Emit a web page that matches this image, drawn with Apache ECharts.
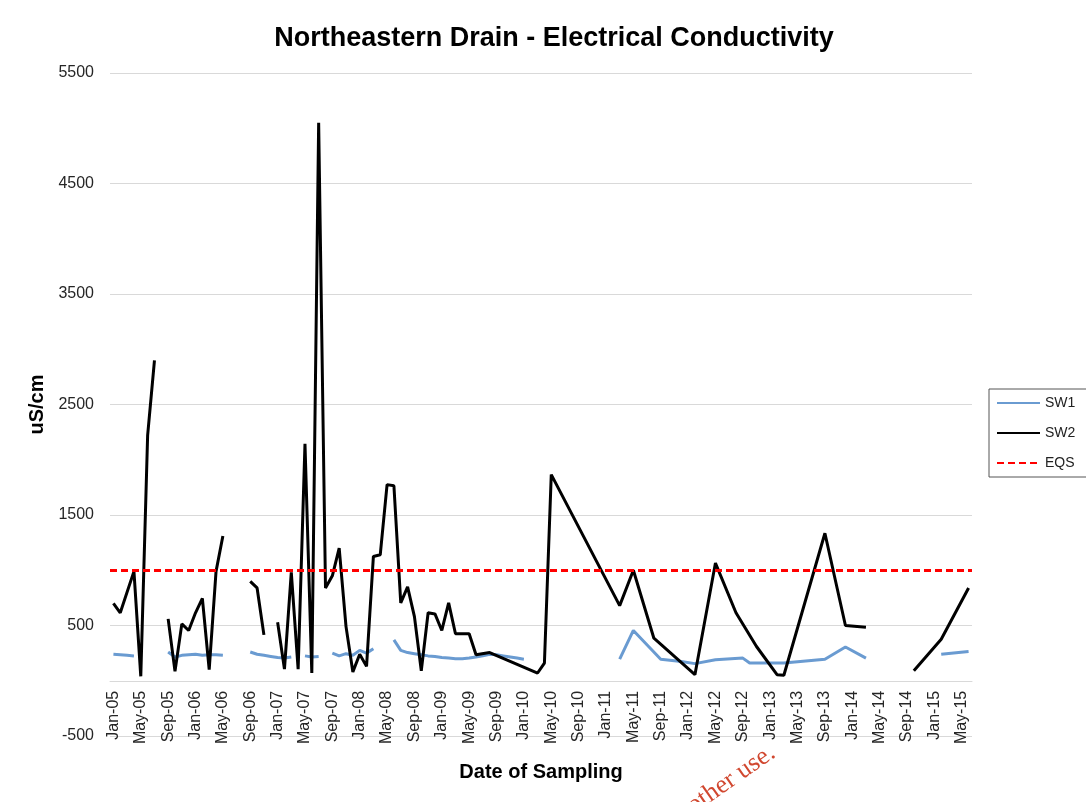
<!DOCTYPE html>
<html>
<head>
<meta charset="utf-8">
<script src="https://cdn.jsdelivr.net/npm/echarts@6/dist/echarts.min.js"></script>
<style>
  html, body { margin: 0; padding: 0; background: #fff; }
  #chart { width: 1086px; height: 802px; }
</style>
</head>
<body>
<div id="chart"></div>
<script>
// Monthly category axis, Jan-05 .. Jun-15
const monthNames = ['Jan', 'Feb', 'Mar', 'Apr', 'May', 'Jun', 'Jul', 'Aug', 'Sep', 'Oct', 'Nov', 'Dec'];
const yearCodes = ['05', '06', '07', '08', '09', '10', '11', '12', '13', '14', '15'];
const lastMonth = 'Jun-15';
const months = [];
for (const yy of yearCodes) {
  for (const m of monthNames) {
    months.push(m + '-' + yy);
    if (m + '-' + yy === lastMonth) break;
  }
}

// Y tick labels (uS/cm)
const yTickLabels = [-500, 500, 1500, 2500, 3500, 4500, 5500];

// Environmental quality standard
const eqsValue = 1000;

// SW1 samples (null = gap in the record)
const sw1Dates = [
  'Jan-05', 'Feb-05', 'Mar-05', 'Apr-05', 'May-05',
  'Sep-05', 'Oct-05', 'Nov-05', 'Dec-05', 'Jan-06', 'Feb-06', 'Mar-06', 'Apr-06', 'May-06', 'Jun-06',
  'Sep-06', 'Oct-06', 'Nov-06', 'Dec-06', 'Jan-07', 'Feb-07', 'Mar-07', 'Apr-07',
  'May-07', 'Jun-07', 'Jul-07', 'Aug-07',
  'Sep-07', 'Oct-07', 'Nov-07', 'Dec-07', 'Jan-08', 'Feb-08', 'Mar-08', 'Apr-08',
  'Jun-08', 'Jul-08', 'Aug-08', 'Sep-08', 'Oct-08', 'Nov-08', 'Dec-08', 'Jan-09', 'Feb-09', 'Mar-09',
  'Apr-09', 'May-09', 'Jun-09', 'Jul-09', 'Aug-09', 'Sep-09', 'Oct-09', 'Nov-09', 'Dec-09', 'Jan-10', 'Feb-10',
  'Mar-11', 'May-11', 'Sep-11', 'Dec-11', 'Feb-12', 'May-12', 'Sep-12', 'Oct-12', 'Mar-13', 'Sep-13',
  'Dec-13', 'Mar-14', 'Apr-14',
  'Feb-15', 'Jun-15'
];
const sw1Values = [
  240, 235, 230, 225, null,
  260, 215, 230, 235, 240, 230, 235, 235, 230, null,
  260, 240, 230, 220, 210, 205, 215, null,
  225, 215, 220, null,
  250, 225, 245, 230, 275, 250, 290, null,
  370, 275, 255, 245, 235, 225, 220, 210, 205, 200,
  200, 205, 215, 225, 240, 235, 225, 215, 205, 195, null,
  195, 455, 195, 175, 155, 190, 205, 160, 160, 195,
  305, 205, null,
  240, 265
];

// SW2 samples (null = gap in the record)
const sw2Dates = [
  'Jan-05', 'Feb-05', 'Apr-05', 'May-05', 'Jun-05', 'Jul-05', 'Aug-05',
  'Sep-05', 'Oct-05', 'Nov-05', 'Dec-05', 'Jan-06', 'Feb-06', 'Mar-06', 'Apr-06', 'May-06', 'Jun-06',
  'Sep-06', 'Oct-06', 'Nov-06', 'Dec-06',
  'Jan-07', 'Feb-07', 'Mar-07', 'Apr-07', 'May-07', 'Jun-07', 'Jul-07', 'Aug-07', 'Sep-07', 'Oct-07',
  'Nov-07', 'Dec-07', 'Jan-08', 'Feb-08', 'Mar-08', 'Apr-08', 'May-08', 'Jun-08', 'Jul-08', 'Aug-08',
  'Sep-08', 'Oct-08', 'Nov-08', 'Dec-08', 'Jan-09', 'Feb-09', 'Mar-09', 'Apr-09', 'May-09', 'Jun-09',
  'Aug-09', 'Mar-10', 'Apr-10', 'May-10', 'Mar-11', 'May-11', 'Aug-11', 'Feb-12', 'May-12', 'Aug-12',
  'Nov-12', 'Feb-13', 'Mar-13', 'Sep-13', 'Dec-13', 'Mar-14', 'Apr-14',
  'Oct-14', 'Feb-15', 'Jun-15'
];
const sw2Values = [
  700, 615, 990, 40, 2220, 2900, null,
  560, 85, 515, 455, 615, 745, 100, 990, 1310, null,
  900, 840, 415, null,
  530, 105, 980, 105, 2145, 70, 5050, 840, 950, 1200,
  490, 80, 240, 130, 1125, 1140, 1775, 1765, 705, 850,
  580, 90, 615, 605, 455, 705, 425, 425, 425, 235,
  255, 70, 160, 1865, 680, 1000, 385, 55, 1065, 615,
  310, 55, 50, 1335, 500, 485, null,
  90, 375, 840
];

const pairs = (dates, values) => dates.map((d, i) => [d, values[i]]);

const FONT = '"Liberation Sans", Arial, sans-serif';

const chart = echarts.init(document.getElementById('chart'), null, { renderer: 'canvas' });

chart.setOption({
  animation: false,
  backgroundColor: '#ffffff',
  title: {
    text: 'Northeastern Drain - Electrical Conductivity',
    left: 549,
    textAlign: 'center',
    top: 20,
    textStyle: { fontFamily: FONT, fontSize: 27, fontWeight: 'bold', color: '#000' }
  },
  legend: {
    data: ['SW1', 'SW2', 'EQS'],
    orient: 'vertical',
    left: 989,
    top: 389,
    itemWidth: 43,
    itemHeight: 14,
    itemGap: 16,
    padding: [7, 12, 7, 7],
    borderColor: '#555',
    borderWidth: 1,
    itemStyle: { opacity: 0 },
    textStyle: { fontFamily: FONT, fontSize: 14, color: '#222' }
  },
  grid: {
    left: 110, top: 73, right: 114, bottom: 66,
    containLabel: false,
    outerBoundsMode: 'none'
  },
  xAxis: {
    type: 'category',
    data: months,
    boundaryGap: true,
    position: 'bottom',
    offset: 0,
    name: 'Date of Sampling',
    nameLocation: 'middle',
    nameGap: 82,
    nameTextStyle: { fontFamily: FONT, fontSize: 20, fontWeight: 'bold', color: '#000' },
    axisLine: { onZero: false, lineStyle: { color: '#d9d9d9', width: 1 } },
    axisTick: { show: false },
    axisLabel: {
      interval: 3,
      rotate: 90,
      margin: 10,
      fontFamily: FONT,
      fontSize: 16,
      color: '#262626'
    },
    splitLine: { show: false }
  },
  yAxis: [
    {
      // data scale (unlabelled)
      type: 'value',
      min: -500,
      max: 5500,
      axisLine: { show: false },
      axisTick: { show: false },
      axisLabel: { show: false },
      splitLine: { show: false }
    },
    {
      // labelled scale, offset so ticks fall on -500, 500, ... 5500
      type: 'value',
      position: 'left',
      min: 0,
      max: 6000,
      interval: 1000,
      name: 'uS/cm',
      nameLocation: 'middle',
      nameRotate: 90,
      nameGap: 44,
      nameTextStyle: { fontFamily: FONT, fontSize: 20, fontWeight: 'bold', color: '#000' },
      axisLine: { show: false, onZero: false },
      axisTick: { show: false },
      axisLabel: {
        margin: 16,
        fontFamily: FONT,
        fontSize: 16,
        color: '#262626',
        formatter: (v) => String(yTickLabels[Math.round(v / 1000)])
      },
      splitLine: { show: true, lineStyle: { color: '#d9d9d9', width: 1 } }
    }
  ],
  series: [
    {
      name: 'SW1',
      type: 'line',
      yAxisIndex: 0,
      data: pairs(sw1Dates, sw1Values),
      connectNulls: false,
      symbol: 'none',
      lineStyle: { color: '#6a9bd1', width: 3 },
      itemStyle: { color: '#6a9bd1' },
      emphasis: { disabled: true },
      z: 2
    },
    {
      name: 'SW2',
      type: 'line',
      yAxisIndex: 0,
      data: pairs(sw2Dates, sw2Values),
      connectNulls: false,
      symbol: 'none',
      lineStyle: { color: '#000000', width: 3 },
      itemStyle: { color: '#000000' },
      emphasis: { disabled: true },
      z: 3
    },
    {
      name: 'EQS',
      type: 'line',
      yAxisIndex: 0,
      data: [],
      symbol: 'none',
      lineStyle: { color: '#ff0000', width: 3, type: [7, 4] },
      itemStyle: { color: '#ff0000' },
      markLine: {
        silent: true,
        symbol: 'none',
        label: { show: false },
        lineStyle: { color: '#ff0000', width: 3, type: [7, 4] },
        emphasis: { disabled: true },
        data: [{ yAxis: eqsValue }]
      },
      z: 4
    }
  ],
  graphic: [
    {
      type: 'text',
      x: 780,
      y: 761,
      rotation: 35 * Math.PI / 180,
      style: {
        text: 'other use.',
        font: '26px "Liberation Serif", "Times New Roman", serif',
        fill: '#d1472f',
        textAlign: 'right',
        textVerticalAlign: 'bottom'
      },
      z: 10
    }
  ]
});

// Run the date axis along the zero line of the data scale
const zeroPx = chart.convertToPixel({ yAxisIndex: 0 }, 0);
const minPx = chart.convertToPixel({ yAxisIndex: 0 }, -500);
chart.setOption({ xAxis: { offset: zeroPx - minPx } });
</script>
</body>
</html>
